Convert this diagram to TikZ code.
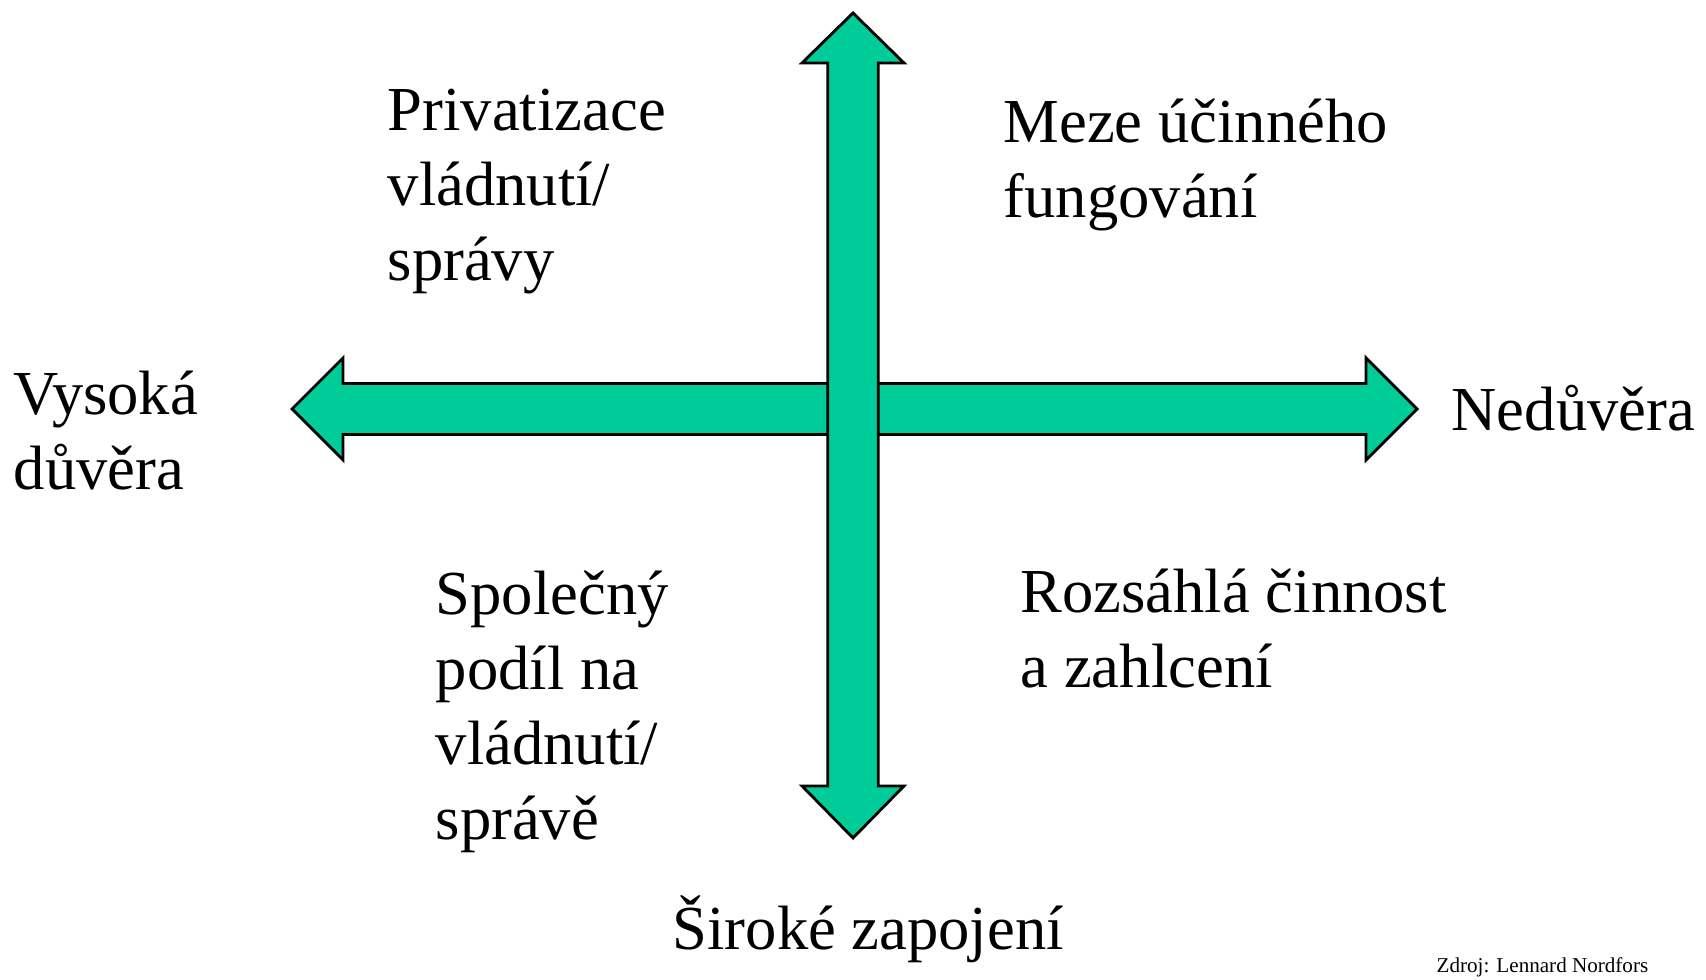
\documentclass[tikz,border=0pt]{standalone}
\usepackage{fontspec}
\setmainfont{Liberation Serif}
\definecolor{arrowgreen}{RGB}{0,204,153}
\tikzset{label text/.style={anchor=base west,align=left,font=\fontsize{17.8}{21.4}\selectfont}}

\begin{document}
\begin{tikzpicture}[x=0.01cm,y=-0.01cm]
\tikzstyle{every node}+=[inner sep=0pt]
\useasboundingbox (0,0) rectangle (1706,980);
% horizontal double arrow
\draw [black,fill=arrowgreen,line width=0.8pt,line join=miter] (292,409) -- (343,358) -- (343,383.5) -- (1366,383.5) -- (1366,358) -- (1417,409) -- (1366,460) -- (1366,434.5) -- (343,434.5) -- (343,460) -- cycle;
% vertical double arrow
\draw [black,fill=arrowgreen,line width=0.8pt,line join=miter] (853,13) -- (904,63) -- (878.3,63) -- (878.3,786) -- (904,786) -- (853,838) -- (802,786) -- (827.7,786) -- (827.7,63) -- (802,63) -- cycle;
% axis ends (base = last line)
\node [label text] (trust) at (13,490) {Vysoká\\důvěra};
\node [label text] (distrust) at (1451,431) {Nedůvěra};
\node [label text] (engage) at (672,950) {Široké zapojení};
% quadrants
\node [label text] (privat) at (387,281) {Privatizace\\vládnutí/\\správy};
\node [label text] (limits) at (1003,218) {Meze účinného\\fungování};
\node [label text] (shared) at (435,840) {Společný\\podíl na\\vládnutí/\\správě};
\node [label text] (overload) at (1020,688) {Rozsáhlá činnost\\a zahlcení};
\node [anchor=base west,font=\fontsize{6}{7}\selectfont] (source) at (1436,973) {Zdroj: Lennard Nordfors};
\end{tikzpicture}
\end{document}
